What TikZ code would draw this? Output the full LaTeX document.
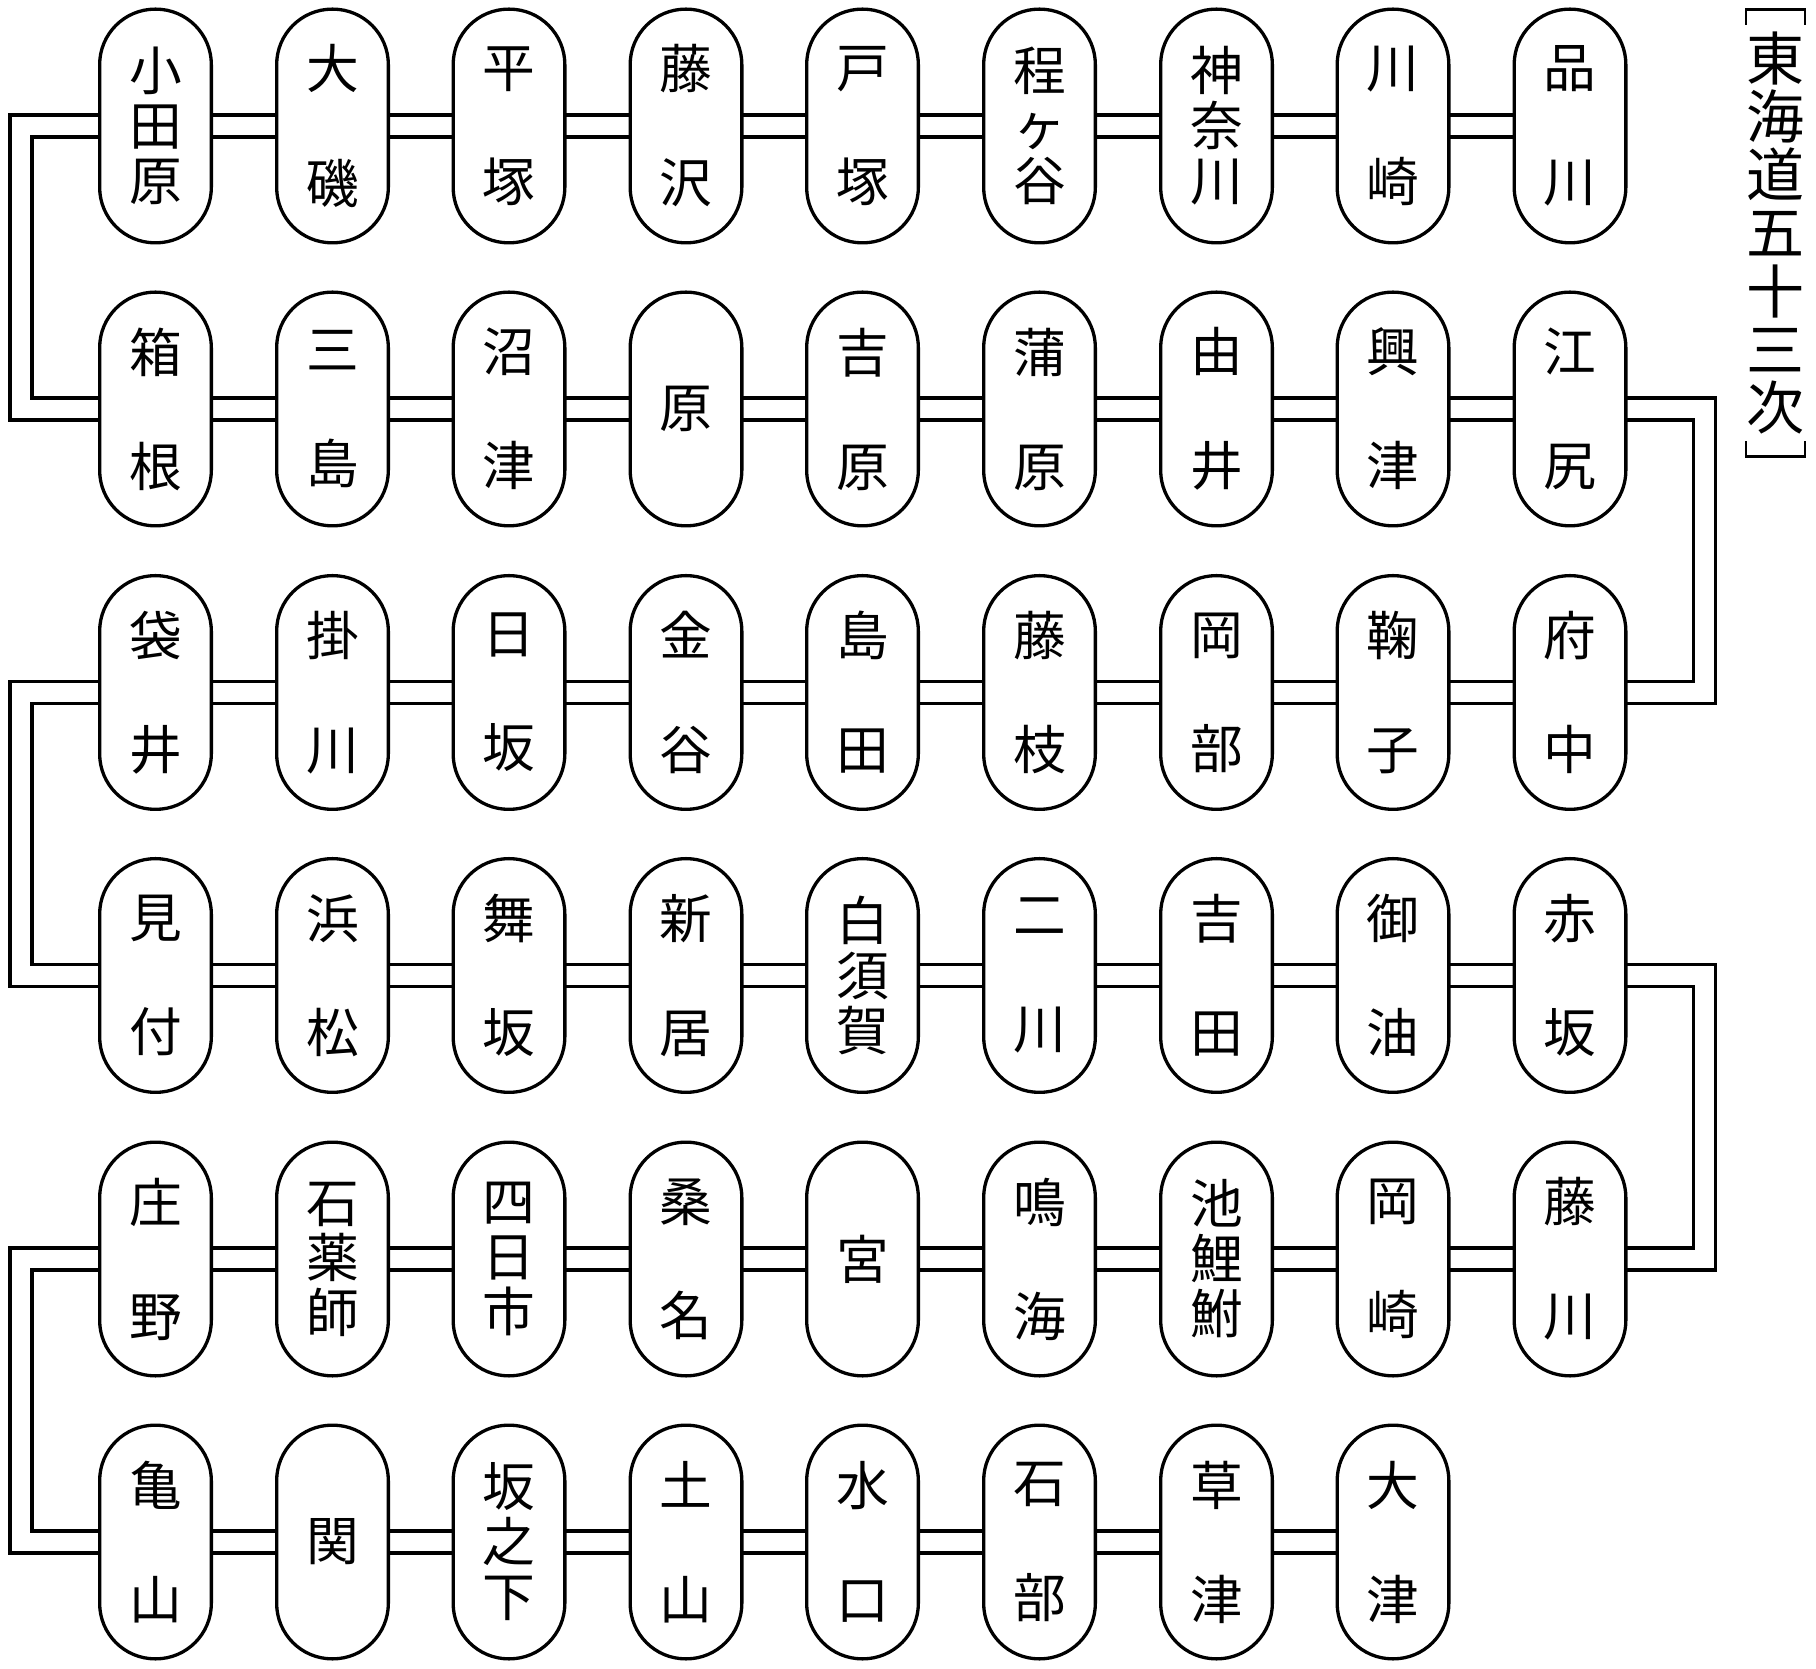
\documentclass[tikz,border=0pt]{standalone}
\usepackage{fontspec}
\newfontfamily\jp{Noto Sans CJK JP}
\usetikzlibrary{backgrounds}
\tikzset{
  station/.style={draw,line width=0.66mm,fill=white,rounded corners=1.11cm,
    minimum width=2.234cm,minimum height=4.674cm,inner sep=0pt,align=center,
    font=\jp\fontsize{30pt}{64.9pt}\selectfont},
  three/.style={font=\jp\fontsize{30pt}{31.3pt}\selectfont},
  rail/.style={draw,line width=0.66mm,double,double distance=3.74mm},
  title/.style={inner sep=0pt,minimum width=1.1cm,minimum height=8.92cm,align=center,
    font=\jp\fontsize{33pt}{33.1pt}\selectfont},
  brk/.style={line width=0.5mm},
}
\begin{document}
\begin{tikzpicture}[x=1cm,y=1cm]
  \useasboundingbox (0,0) rectangle (36.32,33.36);
  % row 1
  \node[station,three] (odawara) at (3.11,30.84) {小\\田\\原};
  \node[station] (oiso) at (6.65,30.84) {大\\磯};
  \node[station] (hiratsuka) at (10.18,30.84) {平\\塚};
  \node[station] (fujisawa) at (13.72,30.84) {藤\\沢};
  \node[station] (totsuka) at (17.25,30.84) {戸\\塚};
  \node[station,three] (hodogaya) at (20.79,30.84) {程\\ヶ\\谷};
  \node[station,three] (kanagawa) at (24.33,30.84) {神\\奈\\川};
  \node[station] (kawasaki) at (27.86,30.84) {川\\崎};
  \node[station] (shinagawa) at (31.40,30.84) {品\\川};
  % row 2
  \node[station] (hakone) at (3.11,25.18) {箱\\根};
  \node[station] (mishima) at (6.65,25.18) {三\\島};
  \node[station] (numazu) at (10.18,25.18) {沼\\津};
  \node[station] (hara) at (13.72,25.18) {原};
  \node[station] (yoshiwara) at (17.25,25.18) {吉\\原};
  \node[station] (kambara) at (20.79,25.18) {蒲\\原};
  \node[station] (yui) at (24.33,25.18) {由\\井};
  \node[station] (okitsu) at (27.86,25.18) {興\\津};
  \node[station] (ejiri) at (31.40,25.18) {江\\尻};
  % row 3
  \node[station] (fukuroi) at (3.11,19.51) {袋\\井};
  \node[station] (kakegawa) at (6.65,19.51) {掛\\川};
  \node[station] (nissaka) at (10.18,19.51) {日\\坂};
  \node[station] (kanaya) at (13.72,19.51) {金\\谷};
  \node[station] (shimada) at (17.25,19.51) {島\\田};
  \node[station] (fujieda) at (20.79,19.51) {藤\\枝};
  \node[station] (okabe) at (24.33,19.51) {岡\\部};
  \node[station] (mariko) at (27.86,19.51) {鞠\\子};
  \node[station] (fuchu) at (31.40,19.51) {府\\中};
  % row 4
  \node[station] (mitsuke) at (3.11,13.85) {見\\付};
  \node[station] (hamamatsu) at (6.65,13.85) {浜\\松};
  \node[station] (maisaka) at (10.18,13.85) {舞\\坂};
  \node[station] (arai) at (13.72,13.85) {新\\居};
  \node[station,three] (shirasuka) at (17.25,13.85) {白\\須\\賀};
  \node[station] (futagawa) at (20.79,13.85) {二\\川};
  \node[station] (yoshida) at (24.33,13.85) {吉\\田};
  \node[station] (goyu) at (27.86,13.85) {御\\油};
  \node[station] (akasaka) at (31.40,13.85) {赤\\坂};
  % row 5
  \node[station] (shono) at (3.11,8.18) {庄\\野};
  \node[station,three] (ishiyakushi) at (6.65,8.18) {石\\薬\\師};
  \node[station,three] (yokkaichi) at (10.18,8.18) {四\\日\\市};
  \node[station] (kuwana) at (13.72,8.18) {桑\\名};
  \node[station] (miya) at (17.25,8.18) {宮};
  \node[station] (narumi) at (20.79,8.18) {鳴\\海};
  \node[station,three] (chiryu) at (24.33,8.18) {池\\鯉\\鮒};
  \node[station] (okazaki) at (27.86,8.18) {岡\\崎};
  \node[station] (fujikawa) at (31.40,8.18) {藤\\川};
  % row 6
  \node[station] (kameyama) at (3.11,2.52) {亀\\山};
  \node[station] (seki) at (6.65,2.52) {関};
  \node[station,three] (sakanoshita) at (10.18,2.52) {坂\\之\\下};
  \node[station] (tsuchiyama) at (13.72,2.52) {土\\山};
  \node[station] (minakuchi) at (17.25,2.52) {水\\口};
  \node[station] (ishibe) at (20.79,2.52) {石\\部};
  \node[station] (kusatsu) at (24.33,2.52) {草\\津};
  \node[station] (otsu) at (27.86,2.52) {大\\津};
  % title
  \node[title] (title) at (35.51,28.70) {東\\海\\道\\五\\十\\三\\次};
  \draw[brk] ([yshift=-0.3cm]title.north west) |- (title.north east) -- ++(0,-0.3);
  \draw[brk] ([yshift=0.3cm]title.south west) |- (title.south east) -- ++(0,0.3);
  % the road
  \begin{scope}[on background layer]
    \draw[rail] (shinagawa.center) -- (kawasaki.center) -- (kanagawa.center) -- (hodogaya.center)
      -- (totsuka.center) -- (fujisawa.center) -- (hiratsuka.center) -- (oiso.center) -- (odawara.center)
      -- ++(-2.69,0) |- (hakone.center) -- (mishima.center) -- (numazu.center) -- (hara.center)
      -- (yoshiwara.center) -- (kambara.center) -- (yui.center) -- (okitsu.center) -- (ejiri.center)
      -- ++(2.69,0) |- (fuchu.center) -- (mariko.center) -- (okabe.center) -- (fujieda.center)
      -- (shimada.center) -- (kanaya.center) -- (nissaka.center) -- (kakegawa.center) -- (fukuroi.center)
      -- ++(-2.69,0) |- (mitsuke.center) -- (hamamatsu.center) -- (maisaka.center) -- (arai.center)
      -- (shirasuka.center) -- (futagawa.center) -- (yoshida.center) -- (goyu.center) -- (akasaka.center)
      -- ++(2.69,0) |- (fujikawa.center) -- (okazaki.center) -- (chiryu.center) -- (narumi.center)
      -- (miya.center) -- (kuwana.center) -- (yokkaichi.center) -- (ishiyakushi.center) -- (shono.center)
      -- ++(-2.69,0) |- (kameyama.center) -- (seki.center) -- (sakanoshita.center) -- (tsuchiyama.center)
      -- (minakuchi.center) -- (ishibe.center) -- (kusatsu.center) -- (otsu.center);
  \end{scope}
\end{tikzpicture}
\end{document}
